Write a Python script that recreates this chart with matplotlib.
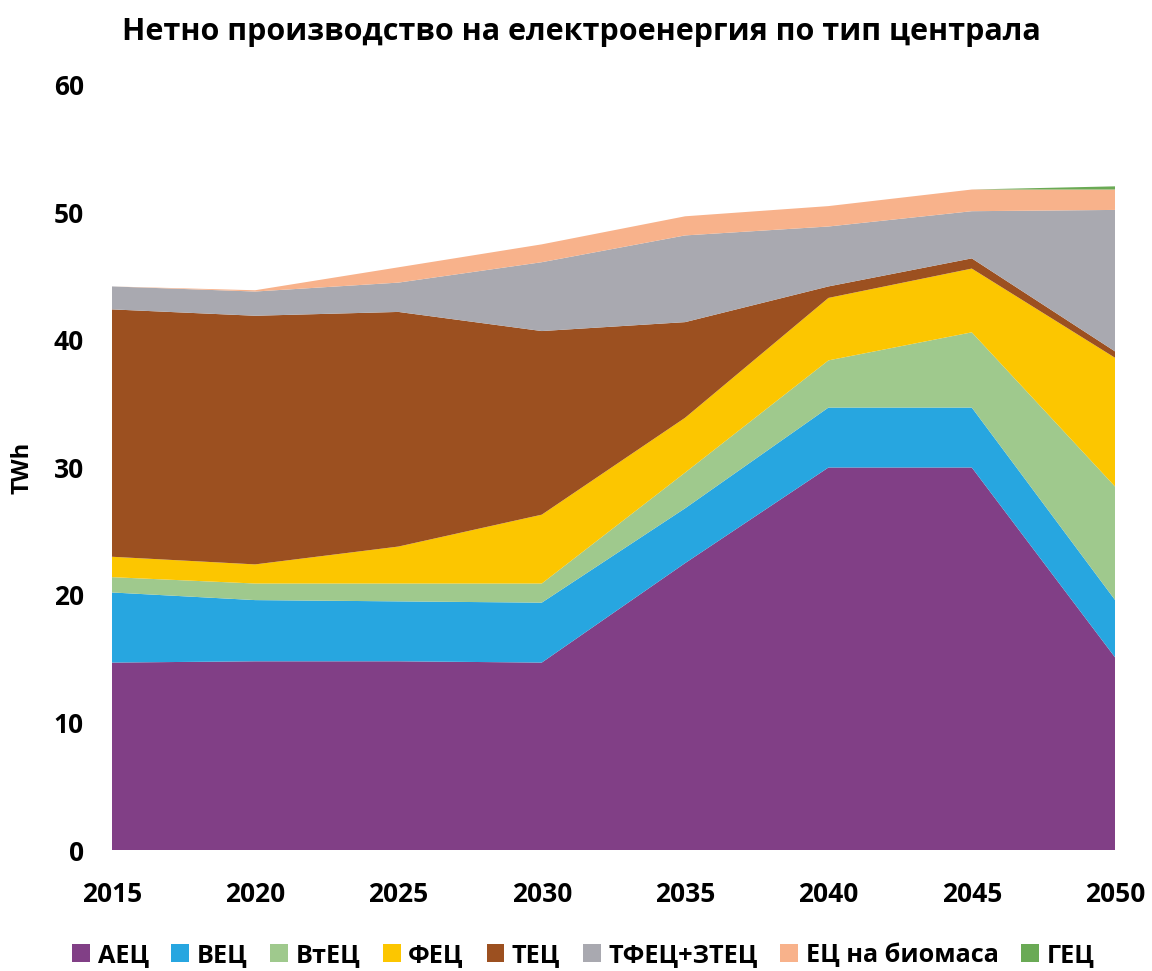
import numpy as np
import matplotlib.pyplot as plt

plt.rcParams['font.family'] = ['Open Sans', 'DejaVu Sans']

# Години
years = [2015, 2020, 2025, 2030, 2035, 2040, 2045, 2050]

# Производство по тип централа, TWh
aec = [14.7, 14.8, 14.8, 14.7, 22.5, 30.0, 30.0, 15.1]
vec = [5.5, 4.8, 4.7, 4.7, 4.3, 4.7, 4.7, 4.5]
vtec = [1.2, 1.3, 1.4, 1.5, 2.8, 3.7, 5.9, 8.9]
fec = [1.6, 1.5, 2.9, 5.4, 4.3, 4.9, 5.0, 10.1]
tec = [19.4, 19.5, 18.4, 14.4, 7.5, 0.9, 0.8, 0.5]
tfec = [1.8, 1.9, 2.3, 5.4, 6.8, 4.7, 3.7, 11.1]
biomasa = [0.0, 0.1, 1.2, 1.4, 1.5, 1.6, 1.7, 1.6]
gec = [0.0, 0.0, 0.0, 0.0, 0.0, 0.0, 0.0, 0.25]

labels = ["АЕЦ", "ВЕЦ", "ВтЕЦ", "ФЕЦ", "ТЕЦ", "ТФЕЦ+ЗТЕЦ", "ЕЦ на биомаса", "ГЕЦ"]
colors = ["#813f86", "#27a6e0", "#9fc98d", "#fcc600", "#9c5020",
          "#a9a9b0", "#f8b28b", "#6aaa55"]

fig = plt.figure(figsize=(11.52, 9.71), dpi=100)
ax = fig.add_axes([0.097, 0.1246, 0.871, 0.7879])

ax.stackplot(years, aec, vec, vtec, fec, tec, tfec, biomasa, gec,
             labels=labels, colors=colors, linewidth=0)

ax.set_xlim(2015, 2050)
ax.set_ylim(0, 60)
ax.set_xticks(years)
ax.set_yticks(range(0, 61, 10))
for s in ax.spines.values():
    s.set_visible(False)
ax.tick_params(length=0, labelsize=19)
ax.tick_params(axis='x', pad=22)
ax.tick_params(axis='y', pad=20)
for lbl in ax.get_xticklabels() + ax.get_yticklabels():
    lbl.set_fontweight('bold')

ax.set_ylabel("TWh", fontsize=17, fontweight='bold', labelpad=14)
fig.suptitle("Нетно производство на електроенергия по тип централа",
             x=0.505, y=0.983, fontsize=22, fontweight='bold')

ax.legend(loc='upper center', bbox_to_anchor=(0.47, -0.092), ncol=8,
          frameon=False, handlelength=0.7, handleheight=0.7,
          handletextpad=0.3, columnspacing=0.9,
          prop={'weight': 'bold', 'size': 18.2})

fig.savefig("out.png", dpi=100)
